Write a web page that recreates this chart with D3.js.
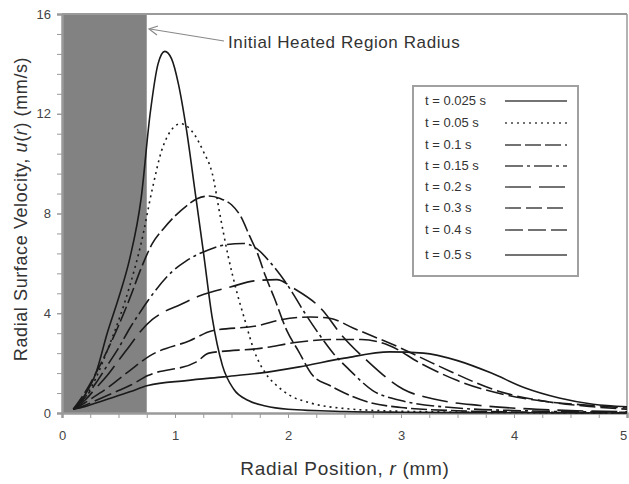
<!DOCTYPE html>
<html>
<head>
<meta charset="utf-8">
<script src="https://cdn.jsdelivr.net/npm/d3@7"></script>
<style>
  body { margin: 0; background: #fff; }
  svg { font-family: "Liberation Sans", Arial, sans-serif; }
</style>
</head>
<body>
<div id="chart"></div>
<script>
'use strict';

// radial position r (mm), velocity u (mm/s)
const s0025 = [[0.1,0.15],[0.2,0.7],[0.3,1.6],[0.4,3.2],[0.5,4.6],[0.6,6.2],[0.7,8.6],[0.78,12.0],[0.85,14.0],[0.91,14.5],[0.97,14.2],[1.03,13.2],[1.1,11.4],[1.18,8.8],[1.25,6.5],[1.33,3.8],[1.42,1.9],[1.52,0.95],[1.65,0.5],[1.8,0.28],[2.0,0.15],[2.5,0.06],[3.0,0.03],[4.0,0.01],[5.0,0]];
const s005 = [[0.1,0.15],[0.2,0.6],[0.3,1.4],[0.4,2.5],[0.5,3.7],[0.6,5.1],[0.7,6.8],[0.8,9.0],[0.88,10.5],[0.96,11.3],[1.05,11.6],[1.15,11.3],[1.25,10.5],[1.33,9.6],[1.4,7.9],[1.47,6.3],[1.55,4.8],[1.62,3.7],[1.7,2.5],[1.8,1.6],[1.9,1.1],[2.0,0.75],[2.2,0.4],[2.5,0.18],[3.0,0.07],[4.0,0.02],[5.0,0]];
const s01 = [[0.1,0.15],[0.2,0.8],[0.3,1.6],[0.4,2.5],[0.5,3.5],[0.6,4.6],[0.7,5.8],[0.8,6.8],[0.9,7.4],[1.0,7.9],[1.1,8.3],[1.2,8.6],[1.3,8.7],[1.4,8.6],[1.5,8.35],[1.58,7.9],[1.66,7.1],[1.73,6.4],[1.8,5.5],[1.88,4.6],[1.99,3.3],[2.09,2.5],[2.22,1.5],[2.37,1.1],[2.5,0.8],[2.7,0.45],[3.0,0.22],[3.5,0.09],[4.0,0.04],[5.0,0.01]];
const s015 = [[0.1,0.15],[0.2,0.6],[0.3,1.2],[0.4,1.9],[0.5,2.6],[0.6,3.4],[0.7,4.1],[0.76,4.5],[0.97,5.65],[1.1,6.1],[1.3,6.55],[1.45,6.75],[1.6,6.8],[1.72,6.6],[1.85,6.0],[2.0,5.1],[2.15,4.0],[2.3,3.0],[2.4,2.4],[2.55,1.7],[2.75,0.9],[3.0,0.5],[3.5,0.2],[4.0,0.1],[5.0,0.03]];
const s02 = [[0.1,0.15],[0.2,0.5],[0.3,1.0],[0.4,1.5],[0.5,2.1],[0.6,2.7],[0.7,3.3],[0.8,3.75],[0.88,4.0],[1.05,4.35],[1.22,4.7],[1.49,5.05],[1.7,5.3],[1.9,5.35],[2.05,5.0],[2.31,4.1],[2.46,3.2],[2.7,2.1],[3.02,0.95],[3.3,0.55],[3.7,0.3],[4.2,0.15],[5.0,0.05]];
const s03 = [[0.1,0.15],[0.2,0.4],[0.3,0.7],[0.4,1.0],[0.5,1.35],[0.6,1.7],[0.78,2.3],[1.13,2.9],[1.33,3.3],[1.73,3.5],[1.95,3.75],[2.2,3.85],[2.37,3.8],[2.58,3.4],[3.0,2.6],[3.35,1.85],[3.88,0.85],[4.3,0.45],[4.7,0.25],[5.0,0.15]];
const s04 = [[0.1,0.15],[0.2,0.3],[0.3,0.5],[0.4,0.7],[0.5,0.9],[0.6,1.1],[0.76,1.5],[1.19,2.05],[1.3,2.4],[1.77,2.6],[2.1,2.85],[2.4,2.95],[2.65,2.95],[2.9,2.7],[3.17,2.0],[3.5,1.3],[3.9,0.75],[4.3,0.45],[4.7,0.3],[5.0,0.2]];
const s05 = [[0.1,0.15],[0.2,0.25],[0.3,0.4],[0.4,0.55],[0.5,0.7],[0.6,0.85],[0.76,1.1],[1.1,1.3],[1.43,1.45],[1.75,1.6],[2.1,1.85],[2.5,2.2],[2.9,2.45],[3.2,2.4],[3.5,2.1],[3.8,1.6],[4.1,1.0],[4.4,0.6],[4.7,0.35],[5.0,0.25]];

const seriesData = [s0025, s005, s01, s015, s02, s03, s04, s05];
const seriesLabels = ["t = 0.025 s", "t = 0.05 s", "t = 0.1 s", "t = 0.15 s", "t = 0.2 s", "t = 0.3 s", "t = 0.4 s", "t = 0.5 s"];
const heatedRadius = 0.75;
const xTicks = [0, 1, 2, 3, 4, 5];
const yTicks = [0, 4, 8, 12, 16];

// line styles, one per series
const dashes = ["none", "2,4", "16,4", "18,4,3,4", "26,8", "16,5", "18,5", "none"];

const W = 629, H = 484;
const margin = {top: 14, right: 2, bottom: 71, left: 62};
const width = W - margin.left - margin.right;
const height = H - margin.top - margin.bottom;

const svg = d3.select("#chart").append("svg")
  .attr("width", W)
  .attr("height", H);

const g = svg.append("g")
  .attr("transform", "translate(" + margin.left + "," + margin.top + ")");

const x = d3.scaleLinear().domain([0, 5]).range([0, width]);
const y = d3.scaleLinear().domain([0, 16]).range([height, 0]);

// heated region
g.append("rect")
  .attr("x", x(0))
  .attr("y", y(16))
  .attr("width", x(heatedRadius) - x(0))
  .attr("height", y(0) - y(16))
  .attr("fill", "#828282");

// frame top / right
g.append("line").attr("x1", 0).attr("x2", width).attr("y1", 0).attr("y2", 0)
  .attr("stroke", "#9a9a9a").attr("stroke-width", 2);
g.append("line").attr("x1", width).attr("x2", width).attr("y1", 0).attr("y2", height)
  .attr("stroke", "#9a9a9a").attr("stroke-width", 1.5);

// minor ticks
const xAxisMinor = g.append("g")
  .attr("transform", "translate(0," + height + ")")
  .call(d3.axisBottom(x).tickValues(d3.range(0, 5.001, 0.25)).tickSize(5).tickFormat(""));
const yAxisMinor = g.append("g")
  .call(d3.axisLeft(y).tickValues(d3.range(0, 16.001, 0.8)).tickSize(5).tickFormat(""));

const xAxis = g.append("g")
  .attr("transform", "translate(0," + height + ")")
  .call(d3.axisBottom(x).tickValues(xTicks).tickSize(5).tickPadding(13).tickFormat(d3.format("d")));
const yAxis = g.append("g")
  .call(d3.axisLeft(y).tickValues(yTicks).tickSize(5).tickPadding(6).tickFormat(d3.format("d")));

[xAxisMinor, yAxisMinor, xAxis, yAxis].forEach(a => {
  a.selectAll("path").attr("stroke", "#9a9a9a").attr("stroke-width", 2);
  a.selectAll("line").attr("stroke", "#9a9a9a");
  a.selectAll("text").attr("fill", "#444").style("font-size", "13px");
});
// keep the last x label inside the page
xAxis.selectAll(".tick text").filter(d => d === 5).attr("dx", "-4");

// curves
const line = d3.line()
  .x(d => x(d[0]))
  .y(d => y(d[1]))
  .curve(d3.curveMonotoneX);

g.selectAll(".curve")
  .data(seriesData)
  .enter()
  .append("path")
  .attr("class", "curve")
  .attr("d", line)
  .attr("fill", "none")
  .attr("stroke", "#1a1a1a")
  .attr("stroke-width", 1.6)
  .attr("stroke-dasharray", (d, i) => dashes[i]);

// legend
const legend = svg.append("g").attr("transform", "translate(413,86)");
legend.append("rect")
  .attr("width", 165).attr("height", 190)
  .attr("fill", "#fff")
  .attr("stroke", "#a0a0a0").attr("stroke-width", 2);
const rowY = [15, 37, 59, 80, 101, 122, 144, 169];
seriesLabels.forEach((lab, i) => {
  legend.append("text")
    .attr("x", 12).attr("y", rowY[i] + 4)
    .style("font-size", "13px")
    .attr("fill", "#333")
    .text(lab);
  legend.append("line")
    .attr("x1", 92).attr("x2", 154)
    .attr("y1", rowY[i]).attr("y2", rowY[i])
    .attr("stroke", "#444").attr("stroke-width", 1.4)
    .attr("stroke-dasharray", dashes[i]);
});

// annotation
svg.append("text")
  .attr("x", 228).attr("y", 48)
  .style("font-size", "17px")
  .style("letter-spacing", "0.6px")
  .attr("fill", "#333")
  .text("Initial Heated Region Radius");
svg.append("line")
  .attr("x1", 224).attr("y1", 41).attr("x2", 150).attr("y2", 29)
  .attr("stroke", "#888").attr("stroke-width", 1.2);
svg.append("path")
  .attr("d", "M158,26 L149,29 L157,35")
  .attr("fill", "none").attr("stroke", "#888").attr("stroke-width", 1.2);

// axis titles
const xt = svg.append("text")
  .attr("x", 345).attr("y", 475)
  .attr("text-anchor", "middle")
  .style("font-size", "19px")
  .style("letter-spacing", "0.7px")
  .attr("fill", "#333");
xt.append("tspan").text("Radial Position, ");
xt.append("tspan").style("font-style", "italic").text("r");
xt.append("tspan").text(" (mm)");

const yt = svg.append("text")
  .attr("transform", "translate(27,209) rotate(-90)")
  .attr("text-anchor", "middle")
  .style("font-size", "18px")
  .style("letter-spacing", "0.6px")
  .attr("fill", "#333");
yt.append("tspan").text("Radial Surface Velocity, ");
yt.append("tspan").style("font-style", "italic").text("u");
yt.append("tspan").text("(");
yt.append("tspan").style("font-style", "italic").text("r");
yt.append("tspan").text(") (mm/s)");
</script>
</body>
</html>
